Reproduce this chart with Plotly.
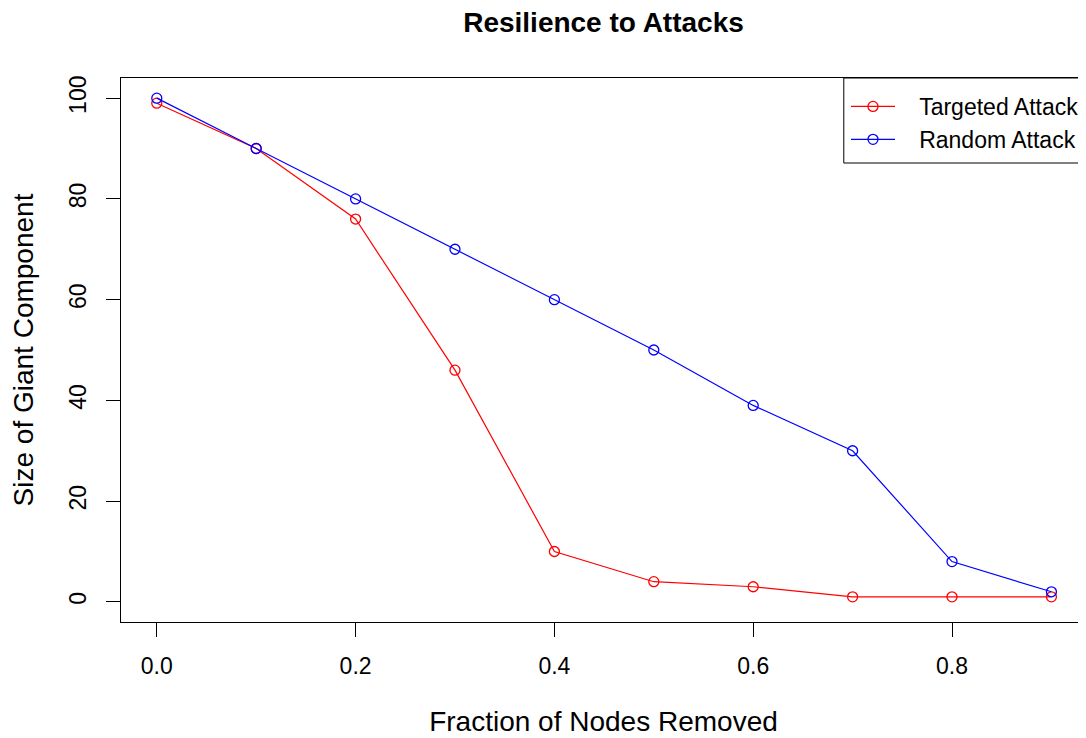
import plotly.graph_objects as go

# ---------------------------------------------------------------------------
# Data
# ---------------------------------------------------------------------------
fraction_removed = [0.0, 0.1, 0.2, 0.3, 0.4, 0.5, 0.6, 0.7, 0.8, 0.9]
targeted_attack = [99, 90, 76, 46, 10, 4, 3, 1, 1, 1]
random_attack = [100, 90, 80, 70, 60, 50, 39, 30, 8, 2]

x_ticks = [0.0, 0.2, 0.4, 0.6, 0.8]
x_tick_labels = ["0.0", "0.2", "0.4", "0.6", "0.8"]
y_ticks = [0, 20, 40, 60, 80, 100]

RED = "#FF0000"
BLUE = "#0000FF"
FONT = "Liberation Sans, Arial, sans-serif"
FS = 23

# the page body has an 8px margin, so the figure is 8px smaller than the window
W, H = 1078, 730
PLOT_H = H - 70 - 116

series = [("Targeted Attack", targeted_attack, RED),
          ("Random Attack", random_attack, BLUE)]

fig = go.Figure()

pad = "&nbsp;" * 3  # gap between legend symbol and text, as in base R
for name, vals, col in series:
    fig.add_trace(go.Scatter(x=fraction_removed, y=vals, mode="lines+markers",
                             name=pad + name,
                             line=dict(color=col, width=1.2),
                             marker=dict(symbol="circle-open", size=10,
                                         color=col, line=dict(width=1.3))))

axis_common = dict(showgrid=False, zeroline=False, showline=True,
                   linecolor="black", linewidth=1, ticks="outside",
                   ticklen=14, tickcolor="black", tickwidth=1,
                   tickfont=dict(family=FONT, size=FS, color="black"))

fig.update_layout(
    width=W, height=H,
    paper_bgcolor="white", plot_bgcolor="white",
    margin=dict(l=113, r=0, t=70, b=116),
    font=dict(family=FONT, size=FS, color="black"),
    title=dict(text="Resilience to Attacks", x=0.5, xref="paper",
               y=1 - 14 / H, yref="container", yanchor="middle", xanchor="center",
               font=dict(family=FONT, size=28, color="black", weight="bold")),
    xaxis=dict(range=[-0.036, 0.9348], tickvals=x_ticks, ticktext=x_tick_labels,
               mirror=True, ticklabelstandoff=9,
               title=dict(text="Fraction of Nodes Removed", standoff=33),
               **axis_common),
    yaxis=dict(range=[-4, 104], tickvals=y_ticks, tickangle=-90,
               ticklabelstandoff=11,
               title=dict(text="Size of Giant Component", standoff=25),
               **axis_common),
    legend=dict(x=(846 - 121) / 965, y=1 - 7 / PLOT_H, xanchor="left", yanchor="top",
                bgcolor="rgba(0,0,0,0)", borderwidth=0,
                itemwidth=44, font=dict(family=FONT, size=FS, color="black")),
    shapes=[dict(type="rect", xref="paper", yref="paper",
                 x0=0.749, x1=1.05, y0=1 - 85 / PLOT_H, y1=1,
                 line=dict(color="black", width=1))],
)

fig.write_html("out.html")
